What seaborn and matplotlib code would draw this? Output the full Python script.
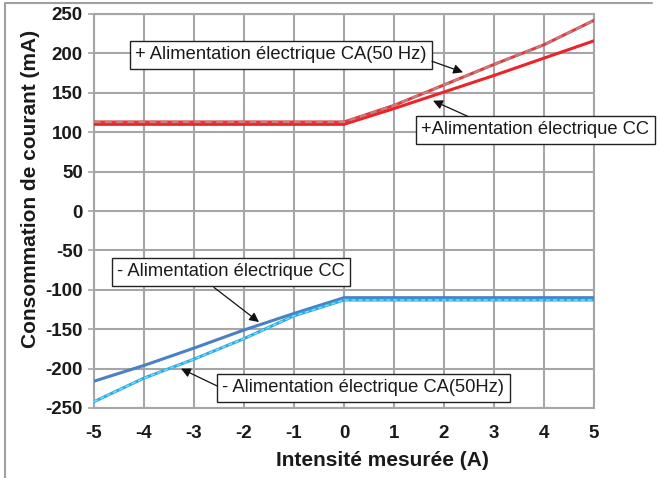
import numpy as np
import pandas as pd
import matplotlib
matplotlib.use("Agg")
import matplotlib.pyplot as plt
from matplotlib.lines import Line2D
import seaborn as sns

# données
intensite = [-5, -4, -3, -2, -1, 0, 1, 2, 3, 4, 5]
plus_cc = [110, 110, 110, 110, 110, 110, 130, 151, 172, 194, 216]
plus_ca = [113, 113, 113, 113, 113, 113, 134, 160, 186, 211, 242]
moins_cc = [-216, -196, -174, -151, -130, -110, -110, -110, -110, -110, -110]
moins_ca = [-242, -212, -188, -162, -133, -113, -113, -113, -113, -113, -113]

x_ticks = [-5, -4, -3, -2, -1, 0, 1, 2, 3, 4, 5]
y_ticks = [250, 200, 150, 100, 50, 0, -50, -100, -150, -200, -250]

sns.set_style("white")
plt.rcParams["font.family"] = ["Liberation Sans", "DejaVu Sans"]
plt.rcParams["axes.unicode_minus"] = False

fig = plt.figure(figsize=(6.59, 4.78), dpi=100)
ax = fig.add_axes([94 / 659, 1 - 408 / 478, 500 / 659, 394 / 478])

grid_col = "#a6a6a6"

# courbes
sns.lineplot(x=intensite, y=plus_cc, ax=ax, color="#ee2229", lw=2.2, zorder=3)
sns.lineplot(x=intensite, y=plus_ca, ax=ax, color="#e33a40", lw=2.2, zorder=4)
sns.lineplot(x=intensite, y=plus_ca, ax=ax, color="#b98585", lw=1.6, zorder=5,
             linestyle=(0, (3, 2)))
sns.lineplot(x=intensite, y=moins_cc, ax=ax, color="#4a80c4", lw=2.2, zorder=3)
sns.lineplot(x=intensite, y=moins_ca, ax=ax, color="#25aee6", lw=2.2, zorder=4)
sns.lineplot(x=intensite, y=moins_ca, ax=ax, color="#8fd6f2", lw=1.0, zorder=5,
             linestyle=(0, (3, 2)))

ax.set_xlim(-5, 5)
ax.set_ylim(-250, 250)
ax.set_xticks(x_ticks)
ax.set_yticks(y_ticks)
ax.grid(True, color=grid_col, lw=1.5)
ax.set_axisbelow(True)
for s in ax.spines.values():
    s.set_color(grid_col)
    s.set_linewidth(1.5)
ax.tick_params(axis="both", which="both", length=4, width=1.2, color=grid_col,
               labelsize=13.5, pad=4)
ax.tick_params(axis="y", length=4, left=True)
ax.tick_params(axis="x", bottom=False, pad=8)
for lab in ax.get_xticklabels() + ax.get_yticklabels():
    lab.set_fontweight("bold")
    lab.set_color("#1a1a1a")
ax.set_xlabel("")
ax.set_ylabel("")

fig.text(382 / 659, 1 - 460 / 478, "Intensité mesurée (A)", ha="center", va="center",
         fontsize=15, fontweight="bold", color="#1a1a1a")
fig.text(31 / 659, 1 - 189 / 478, "Consommation de courant (mA)", ha="center", va="center",
         rotation=90, fontsize=15, fontweight="bold", color="#1a1a1a")

# étiquettes avec flèches
box = dict(boxstyle="square,pad=0.3", fc="white", ec="#222222", lw=1.0)
arrow = dict(arrowstyle="-|>", color="#111111", lw=0.9, mutation_scale=14,
             shrinkA=0, shrinkB=0)

labels = [
    ("+ Alimentation électrique CA(50 Hz)", (-1.26, 198), (1.76, 190), (2.38, 176)),
    ("+Alimentation électrique CC", (3.82, 103), (2.48, 120), (1.78, 140)),
    ("- Alimentation électrique CC", (-2.26, -77), (-2.6, -97), (-1.7, -141)),
    ("- Alimentation électrique CA(50Hz)", (0.38, -224), (-2.54, -222), (-3.26, -200)),
]
for txt, pos, tail, head in labels:
    ax.text(pos[0], pos[1], txt, ha="center", va="center", fontsize=13.2,
            color="#1a1a1a", bbox=box, zorder=6, clip_on=False)
    ax.annotate("", xy=head, xytext=tail, arrowprops=arrow, zorder=6)

# cadre de la figure (haut et gauche)
fig.add_artist(Line2D([5 / 659, 5 / 659], [0, 1 - 3 / 478], transform=fig.transFigure,
                      color="#a0a0a0", lw=1.5))
fig.add_artist(Line2D([5 / 659, 652 / 659], [1 - 3 / 478, 1 - 3 / 478],
                      transform=fig.transFigure, color="#a0a0a0", lw=1.5))

fig.savefig("out.png", dpi=100)
